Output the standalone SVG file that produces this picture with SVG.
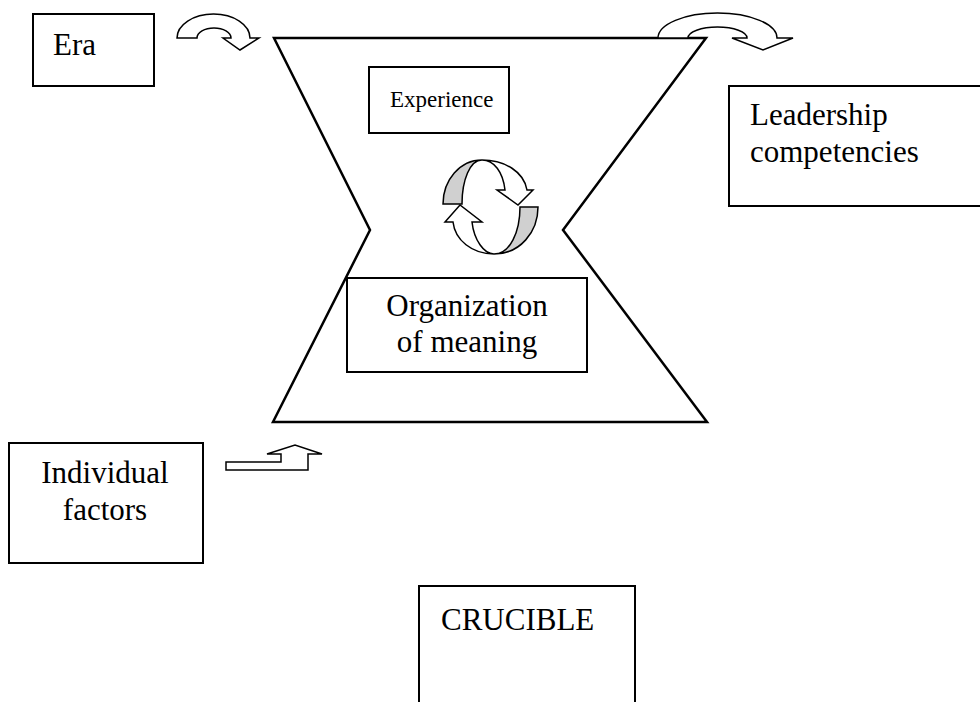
<svg xmlns="http://www.w3.org/2000/svg" width="980" height="702" viewBox="0 0 980 702">
<style>
.box{fill:#fff;stroke:#000;stroke-width:2}
.hg{fill:#fff;stroke:#000;stroke-width:2.5;stroke-linejoin:miter}
.arr{fill:#fff;stroke:#000;stroke-width:1.5;stroke-linejoin:miter}
.grey{fill:#d0d0d0;stroke:#000;stroke-width:1.5}
text{font-family:"Liberation Serif","Times New Roman",serif;font-size:31px;fill:#000}
.c{text-anchor:middle}
</style>
<rect width="980" height="702" fill="#fff"/>
<g id="crucible-shape">
<polygon class="hg" points="274,38 706,38 563,230 707,422 273,422 370,230"/>
</g>
<g id="era">
<rect class="box" x="33" y="14" width="121" height="72"/>
<text x="53" y="55">Era</text>
</g>
<g id="experience">
<rect class="box" x="369" y="67" width="140" height="66"/>
<text x="390" y="107" style="font-size:23px">Experience</text>
</g>
<g id="organization">
<rect class="box" x="347" y="278" width="240" height="94"/>
<text class="c" x="467" y="316">Organization</text>
<text class="c" x="467" y="352">of meaning</text>
</g>
<g id="leadership">
<rect class="box" x="729" y="86" width="260" height="120"/>
<text x="750" y="125">Leadership</text>
<text x="750" y="162">competencies</text>
</g>
<g id="individual">
<rect class="box" x="9" y="443" width="194" height="120"/>
<text class="c" x="105" y="483">Individual</text>
<text class="c" x="105" y="520">factors</text>
</g>
<g id="crucible">
<path class="box" d="M419,710 L419,586 L635,586 L635,710"/>
<text x="441" y="630">CRUCIBLE</text>
</g>
<g id="connectors">
<path class="arr" d="M177,38 A36.5,24 0 0 1 250,38 L259,38 L240,50 L223,38 L231,38 A17,10 0 0 0 197,38 Z"/>
<path class="arr" d="M658,38 A59.5,25 0 0 1 777,38 L793,38 L763,50 L732,38 L747,38 A29.5,11 0 0 0 688,38 Z"/>
<path class="arr" d="M226,470 L308,470 L308,454 L322,454 L295,445 L267,454 L281,454 L281,462 L226,462 Z"/>
<g id="cycle">
<path class="grey" d="M443,204 C443,180 460,160 482,160 C470,160 462,180 462,204 Z"/>
<path class="arr" d="M482,160 C505,160 524,172 527,190 L533,190 L518,205 L497,190 L505,190 C503,172 494,160 482,160 Z"/>
<path class="grey" d="M538,207 C538,232 520,254 494,254 C510,254 520,232 520,207 Z"/>
<path class="arr" d="M494,254 C472,254 455,240 453,222 L445,222 L460,205 L482,222 L472,222 C474,240 484,254 494,254 Z"/>
</g>
</g>
</svg>
